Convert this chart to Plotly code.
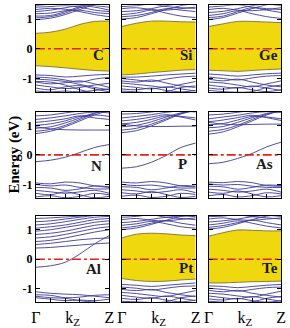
import plotly.graph_objects as go

# ---------------- data ----------------
K = [0.0, 0.2, 0.4, 0.6, 0.8, 1.0]
E_F = 0.0
PANELS = ["C", "Si", "Ge", "N", "P", "As", "Al", "Pt", "Te"]

GAP_TOP = {
    "C":  [0.52, 0.56, 0.66, 0.82, 0.92, 0.93],
    "Si": [0.75, 0.86, 0.93, 0.93, 0.91, 0.90],
    "Ge": [0.75, 0.84, 0.92, 0.92, 0.90, 0.88],
    "Pt": [0.72, 0.85, 0.88, 0.86, 0.82, 0.80],
    "Te": [0.78, 0.90, 0.99, 0.98, 0.96, 0.96],
}
GAP_BOT = {
    "C":  [-0.57, -0.60, -0.64, -0.69, -0.73, -0.75],
    "Si": [-0.88, -0.85, -0.80, -0.76, -0.72, -0.70],
    "Ge": [-0.72, -0.74, -0.76, -0.73, -0.70, -0.68],
    "Pt": [-0.65, -0.72, -0.75, -0.74, -0.70, -0.67],
    "Te": [-0.80, -0.80, -0.78, -0.76, -0.75, -0.74],
}

BANDS = {
    "C": [
        [0.98, 1.03, 1.15, 1.32, 1.48, 1.55],
        [1.04, 1.08, 1.20, 1.38, 1.50, 1.55],
        [1.10, 1.12, 1.25, 1.42, 1.55, 1.60],
        [1.18, 1.20, 1.28, 1.30, 1.22, 1.18],
        [1.25, 1.30, 1.38, 1.45, 1.40, 1.30],
        [1.32, 1.36, 1.33, 1.25, 1.15, 1.08],
        [1.40, 1.42, 1.45, 1.40, 1.30, 1.25],
        [1.45, 1.50, 1.55, 1.50, 1.45, 1.40],
        [-0.88, -0.90, -0.95, -0.92, -0.88, -0.86],
        [-0.95, -0.98, -1.05, -1.12, -1.02, -0.96],
        [-1.02, -1.05, -1.10, -1.20, -1.30, -1.38],
        [-1.12, -1.18, -1.14, -1.08, -1.18, -1.30],
        [-1.22, -1.28, -1.34, -1.30, -1.22, -1.16],
        [-1.32, -1.38, -1.28, -1.24, -1.35, -1.45],
        [-1.10, -1.12, -1.22, -1.38, -1.48, -1.55],
        [-1.42, -1.45, -1.42, -1.45, -1.40, -1.35],
    ],
    "Si": [
        [1.00, 1.05, 1.18, 1.32, 1.45, 1.52],
        [1.08, 1.12, 1.22, 1.35, 1.30, 1.25],
        [1.15, 1.20, 1.30, 1.20, 1.10, 1.05],
        [1.25, 1.28, 1.35, 1.45, 1.50, 1.48],
        [1.35, 1.38, 1.32, 1.30, 1.35, 1.40],
        [1.42, 1.45, 1.50, 1.42, 1.38, 1.36],
        [-0.95, -0.95, -0.92, -0.88, -0.85, -0.82],
        [-1.00, -1.05, -1.10, -1.02, -0.95, -0.92],
        [-1.08, -1.12, -1.05, -1.15, -1.25, -1.30],
        [-1.15, -1.20, -1.25, -1.30, -1.20, -1.10],
        [-1.25, -1.30, -1.35, -1.28, -1.35, -1.42],
        [-1.35, -1.38, -1.32, -1.40, -1.45, -1.40],
        [-1.42, -1.45, -1.48, -1.45, -1.30, -1.25],
    ],
    "Ge": [
        [0.98, 1.05, 1.20, 1.35, 1.48, 1.55],
        [1.05, 1.10, 1.25, 1.38, 1.30, 1.22],
        [1.12, 1.18, 1.28, 1.18, 1.08, 1.02],
        [1.22, 1.26, 1.35, 1.45, 1.50, 1.45],
        [1.32, 1.36, 1.30, 1.28, 1.32, 1.38],
        [1.40, 1.44, 1.48, 1.40, 1.35, 1.32],
        [-0.85, -0.88, -0.92, -0.88, -0.84, -0.82],
        [-0.95, -1.00, -1.05, -0.98, -0.92, -0.90],
        [-1.02, -1.08, -1.02, -1.12, -1.22, -1.28],
        [-1.12, -1.15, -1.22, -1.28, -1.18, -1.08],
        [-1.22, -1.28, -1.32, -1.25, -1.32, -1.40],
        [-1.32, -1.36, -1.30, -1.38, -1.44, -1.38],
        [-1.40, -1.44, -1.46, -1.44, -1.30, -1.22],
    ],
    "N": [
        [0.72, 0.80, 0.95, 1.15, 1.35, 1.50],
        [0.80, 0.86, 1.00, 1.20, 1.40, 1.55],
        [0.90, 0.95, 1.08, 1.25, 1.42, 1.50],
        [1.00, 1.05, 1.15, 1.30, 1.35, 1.30],
        [1.10, 1.15, 1.22, 1.32, 1.25, 1.20],
        [1.20, 1.25, 1.32, 1.40, 1.45, 1.42],
        [1.32, 1.35, 1.42, 1.48, 1.50, 1.50],
        [0.95, 0.88, 0.85, 0.84, 0.84, 0.84],
        [-0.23, -0.18, -0.08, 0.08, 0.25, 0.35],
        [-0.95, -0.98, -0.92, -0.95, -1.05, -1.10],
        [-1.00, -1.05, -1.02, -1.10, -1.15, -1.15],
        [-1.10, -1.12, -1.20, -1.15, -1.05, -1.08],
        [-1.20, -1.25, -1.30, -1.25, -1.20, -1.30],
        [-1.30, -1.35, -1.25, -1.35, -1.45, -1.40],
        [-1.42, -1.38, -1.45, -1.40, -1.30, -1.35],
    ],
    "P": [
        [0.75, 0.82, 0.98, 1.18, 1.38, 1.52],
        [0.84, 0.90, 1.04, 1.22, 1.40, 1.52],
        [0.95, 1.00, 1.12, 1.28, 1.42, 1.48],
        [1.05, 1.10, 1.20, 1.32, 1.30, 1.25],
        [1.15, 1.20, 1.28, 1.36, 1.28, 1.18],
        [1.25, 1.30, 1.36, 1.44, 1.48, 1.45],
        [1.38, 1.40, 1.45, 1.50, 1.50, 1.50],
        [1.05, 0.98, 0.96, 0.96, 0.97, 0.97],
        [-0.45, -0.40, -0.25, -0.02, 0.25, 0.40],
        [-0.92, -0.95, -0.90, -0.95, -1.05, -1.08],
        [-1.00, -1.04, -1.02, -1.08, -1.12, -1.12],
        [-1.08, -1.10, -1.18, -1.12, -1.04, -1.06],
        [-1.18, -1.22, -1.28, -1.24, -1.18, -1.28],
        [-1.28, -1.32, -1.24, -1.34, -1.44, -1.40],
        [-1.40, -1.36, -1.44, -1.40, -1.30, -1.34],
    ],
    "As": [
        [0.70, 0.78, 0.95, 1.15, 1.35, 1.50],
        [0.80, 0.86, 1.00, 1.20, 1.38, 1.50],
        [0.92, 0.96, 1.10, 1.26, 1.40, 1.46],
        [1.02, 1.06, 1.18, 1.30, 1.28, 1.22],
        [1.12, 1.18, 1.26, 1.34, 1.26, 1.16],
        [1.22, 1.28, 1.34, 1.42, 1.46, 1.44],
        [1.35, 1.38, 1.44, 1.50, 1.50, 1.50],
        [1.10, 1.04, 1.02, 1.03, 1.04, 1.04],
        [-0.30, -0.25, -0.12, 0.05, 0.27, 0.43],
        [-0.92, -0.94, -0.90, -0.94, -1.04, -1.06],
        [-0.98, -1.02, -1.00, -1.06, -1.10, -1.10],
        [-1.06, -1.08, -1.16, -1.10, -1.02, -1.04],
        [-1.16, -1.20, -1.26, -1.22, -1.16, -1.26],
        [-1.26, -1.30, -1.22, -1.32, -1.42, -1.38],
        [-1.38, -1.34, -1.42, -1.38, -1.28, -1.32],
    ],
    "Al": [
        [0.38, 0.40, 0.44, 0.48, 0.52, 0.55],
        [0.50, 0.54, 0.60, 0.66, 0.70, 0.72],
        [0.60, 0.64, 0.72, 0.82, 0.92, 1.00],
        [0.72, 0.76, 0.84, 0.94, 1.04, 1.10],
        [0.84, 0.88, 0.95, 1.05, 1.15, 1.20],
        [0.95, 1.00, 1.08, 1.16, 1.25, 1.30],
        [1.05, 1.10, 1.16, 1.25, 1.34, 1.38],
        [1.16, 1.20, 1.27, 1.35, 1.42, 1.45],
        [1.27, 1.30, 1.36, 1.42, 1.48, 1.50],
        [1.38, 1.40, 1.43, 1.46, 1.50, 1.52],
        [-0.27, -0.22, -0.10, 0.18, 0.52, 0.80],
        [-1.10, -1.15, -1.18, -1.20, -1.25, -1.30],
        [-1.20, -1.22, -1.30, -1.28, -1.22, -1.20],
        [-1.30, -1.35, -1.40, -1.38, -1.40, -1.35],
        [-1.25, -1.30, -1.32, -1.40, -1.45, -1.50],
    ],
    "Pt": [
        [1.00, 1.06, 1.18, 1.32, 1.45, 1.52],
        [1.06, 1.12, 1.22, 1.30, 1.22, 1.15],
        [1.15, 1.20, 1.28, 1.20, 1.10, 1.05],
        [1.24, 1.28, 1.35, 1.42, 1.46, 1.44],
        [1.34, 1.38, 1.32, 1.30, 1.35, 1.40],
        [1.42, 1.45, 1.50, 1.42, 1.38, 1.34],
        [-0.85, -0.88, -0.92, -0.88, -0.84, -0.80],
        [-0.94, -0.98, -1.04, -0.98, -0.92, -0.90],
        [-1.02, -1.06, -1.02, -1.12, -1.20, -1.26],
        [-1.12, -1.16, -1.22, -1.26, -1.16, -1.06],
        [-1.22, -1.28, -1.32, -1.24, -1.32, -1.40],
        [-1.32, -1.36, -1.30, -1.38, -1.44, -1.38],
        [-1.42, -1.44, -1.46, -1.44, -1.30, -1.24],
    ],
    "Te": [
        [1.02, 1.08, 1.20, 1.34, 1.46, 1.52],
        [1.08, 1.14, 1.24, 1.32, 1.24, 1.16],
        [1.16, 1.22, 1.30, 1.22, 1.12, 1.06],
        [1.26, 1.30, 1.36, 1.44, 1.48, 1.45],
        [1.36, 1.40, 1.34, 1.32, 1.36, 1.40],
        [1.44, 1.46, 1.50, 1.44, 1.40, 1.36],
        [-0.90, -0.92, -0.96, -0.92, -0.88, -0.85],
        [-0.98, -1.02, -1.08, -1.02, -0.96, -0.94],
        [-1.05, -1.10, -1.05, -1.15, -1.22, -1.28],
        [-1.15, -1.18, -1.24, -1.28, -1.18, -1.08],
        [-1.24, -1.30, -1.34, -1.26, -1.34, -1.42],
        [-1.34, -1.38, -1.32, -1.40, -1.45, -1.40],
        [-1.42, -1.45, -1.47, -1.44, -1.32, -1.26],
    ],
}

LABEL_X = {"C": 0.96, "Si": 0.99, "Ge": 0.985, "N": 0.93, "P": 0.91,
           "As": 0.92, "Al": 0.92, "Pt": 0.99, "Te": 0.985}
LABEL_Y = {"C": -0.21, "Si": -0.21, "Ge": -0.21, "N": -0.39, "P": -0.31,
           "As": -0.31, "Al": -0.33, "Pt": -0.30, "Te": -0.30}

Y_TICKS = [-1, 0, 1]
X_LABEL_POS = [0.0, 0.5, 1.0]
X_LABELS = ["Γ", "k<sub>Z</sub>", "Z"]
X_MINOR = [0.2, 0.4, 0.6, 0.8]

# ---------------- layout geometry ----------------
W, H = 290, 328
COL_PX = [(32, 108), (121, 197.5), (211, 286)]
ROW_PX = [(5.5, 94.5), (114.5, 203), (221.5, 310)]
YR = [-1.46, 1.46]

BAND_COLOR = "#3d3a98"
GAP_FILL = "#efd80e"
GAP_EDGE = "#6e6030"
FERMI_COLOR = "#e2231a"
SERIF = "'Times New Roman', 'Liberation Serif', 'DejaVu Serif', serif"

fig = go.Figure()
layout = dict(width=W, height=H, margin=dict(l=0, r=0, t=0, b=0),
              paper_bgcolor="white", plot_bgcolor="white", showlegend=False,
              font=dict(family=SERIF, color="black"))
annotations = []

for idx, name in enumerate(PANELS):
    r, c = divmod(idx, 3)
    n = idx + 1
    xa = "x" if n == 1 else f"x{n}"
    ya = "y" if n == 1 else f"y{n}"
    x0, x1 = COL_PX[c]
    t0, t1 = ROW_PX[r]
    layout[f"xaxis{'' if n == 1 else n}"] = dict(
        domain=[x0 / W, x1 / W], range=[0, 1], anchor=ya,
        showline=True, linecolor="black", linewidth=1, mirror=True,
        showgrid=False, zeroline=False,
        tickvals=X_LABEL_POS, ticktext=X_LABELS, ticks="", ticklen=0,
        showticklabels=(r == 2),
        tickfont=dict(family=SERIF, size=16, color="black"),
        minor=dict(tickvals=X_MINOR, ticks="inside", ticklen=4,
                   tickcolor="black", tickwidth=1, showgrid=False),
    )
    layout[f"yaxis{'' if n == 1 else n}"] = dict(
        domain=[1 - t1 / H, 1 - t0 / H], range=YR, anchor=xa,
        showline=True, linecolor="black", linewidth=1, mirror="allticks",
        showgrid=False, zeroline=False,
        tickvals=Y_TICKS, ticktext=[f"<b>{v}</b>" for v in Y_TICKS],
        ticks="inside", ticklen=4, tickcolor="black",
        showticklabels=(c == 0),
        tickfont=dict(family=SERIF, size=12, color="black"),
    )

    if name in GAP_TOP:
        fig.add_trace(go.Scatter(x=K, y=GAP_BOT[name], mode="lines",
                                 line=dict(color=GAP_EDGE, width=0.8, shape="spline"),
                                 xaxis=xa, yaxis=ya, hoverinfo="skip"))
        fig.add_trace(go.Scatter(x=K, y=GAP_TOP[name], mode="lines",
                                 line=dict(color=GAP_EDGE, width=0.8, shape="spline"),
                                 fill="tonexty", fillcolor=GAP_FILL,
                                 xaxis=xa, yaxis=ya, hoverinfo="skip"))

    bx, by = [], []
    for band in BANDS[name]:
        bx += K + [None]
        by += band + [None]
    fig.add_trace(go.Scatter(x=bx, y=by, mode="lines",
                             line=dict(color=BAND_COLOR, width=0.9, shape="spline"),
                             xaxis=xa, yaxis=ya, hoverinfo="skip"))

    fig.add_trace(go.Scatter(x=[K[0], K[-1]], y=[E_F, E_F], mode="lines",
                             line=dict(color=FERMI_COLOR, width=1.6, dash="dashdot"),
                             xaxis=xa, yaxis=ya, hoverinfo="skip"))

    annotations.append(dict(x=LABEL_X[name], y=LABEL_Y[name], xref=xa, yref=ya,
                            text=f"<b>{name}</b>", showarrow=False,
                            xanchor="right", yanchor="middle",
                            font=dict(family=SERIF, size=15, color="#1a1a1a")))

annotations.append(dict(x=10 / W, y=1 - 158.75 / H, xref="paper", yref="paper",
                        text="<b>Energy (eV)</b>", textangle=-90, showarrow=False,
                        xanchor="center", yanchor="middle",
                        font=dict(family=SERIF, size=15, color="black")))
layout["annotations"] = annotations
fig.update_layout(**layout)
fig.write_html("out.html")
